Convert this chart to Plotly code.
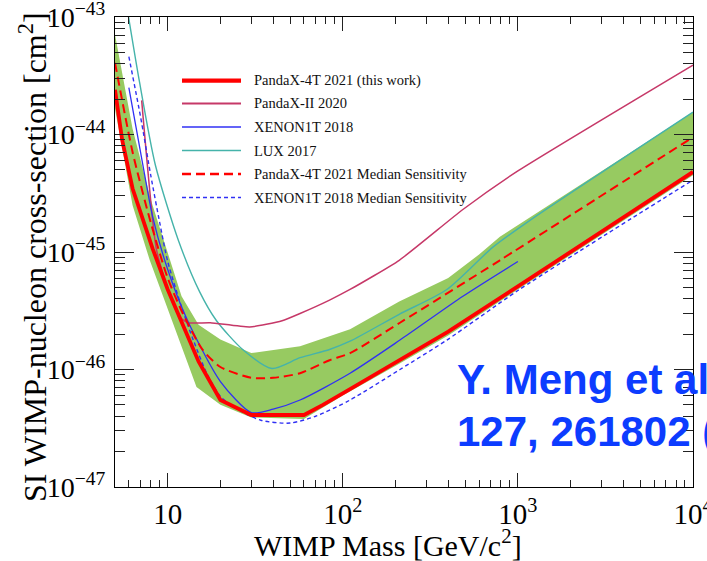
import math
import plotly.graph_objects as go

# ---- limit curves: WIMP mass [GeV/c^2] vs SI WIMP-nucleon cross-section [cm^2] ----
pandax4t_mass = [5, 5.5, 6.3, 8.2, 10, 15, 20, 30, 60, 77, 110, 210, 400, 1000, 10000]
pandax4t_xsec = [2.4e-44, 8.9e-45, 3.47e-45, 1.07e-45, 4.8e-46, 1.17e-46, 5.5e-47, 4.1e-47,
                 4.1e-47, 5.0e-47, 6.8e-47, 1.2e-46, 2.1e-46, 5.1e-46, 4.8e-45]

pandax4t_med_mass = [5, 6.3, 8, 10, 12.2, 15.8, 20, 30, 40, 57, 84, 110, 212, 789, 10000]
pandax4t_med_xsec = [4.07e-44, 7.1e-45, 1.78e-45, 6.0e-46, 3.0e-46, 1.48e-46, 1.05e-46, 8.5e-47,
                     8.5e-47, 9.3e-47, 1.2e-46, 1.38e-46, 2.5e-46, 8.5e-46, 9.5e-45]

band_low_mass = [5, 6.3, 7.9, 10, 14.6, 20, 30, 60, 100, 210, 400, 1000, 10000]
band_low_xsec = [1.66e-44, 2.5e-45, 8.5e-46, 3.3e-46, 7.1e-47, 5.0e-47, 3.9e-47, 3.8e-47,
                 6.0e-47, 1.12e-46, 1.95e-46, 4.8e-46, 4.5e-45]

band_up_mass = [5, 6.3, 8, 10, 12, 15, 20, 30, 57, 110, 210, 400, 600, 789, 1172, 10000]
band_up_xsec = [7.1e-44, 1.12e-44, 2.8e-45, 1.0e-45, 4.2e-46, 2.4e-46, 1.8e-46, 1.38e-46,
                1.58e-46, 2.2e-46, 3.8e-46, 6.0e-46, 9.5e-46, 1.35e-45, 2.0e-45, 1.55e-44]

pandax2_mass = [7.1, 8.6, 10.3, 11.7, 13, 17.5, 29.4, 45, 57, 84, 110, 210, 485, 1000, 10000]
pandax2_xsec = [1.95e-44, 1.07e-45, 4.2e-46, 2.8e-46, 2.5e-46, 2.5e-46, 2.3e-46, 2.6e-46,
                3.0e-46, 3.9e-46, 4.8e-46, 8.5e-46, 2.3e-45, 4.9e-45, 3.9e-44]

xenon1t_mass = [6, 7.5, 8.2, 10, 13, 20, 30, 40, 57, 110, 212, 485, 1000]
xenon1t_xsec = [2.5e-44, 4.0e-45, 2.0e-45, 7.1e-46, 2.6e-46, 7.9e-47, 4.3e-47, 4.6e-47,
                5.5e-47, 9.3e-47, 1.78e-46, 4.2e-46, 8.3e-46]

xenon1t_med_mass = [6, 7, 8, 9, 10, 12, 14, 16.7, 20, 25, 34, 50, 70, 110, 212, 393, 1000, 10000]
xenon1t_med_xsec = [4.6e-44, 1.41e-44, 4.5e-45, 1.78e-45, 8.3e-46, 3.4e-46, 1.78e-46, 9.3e-47,
                    5.9e-47, 4.6e-47, 3.7e-47, 3.5e-47, 4.0e-47, 5.5e-47, 1.0e-46, 1.78e-46,
                    4.7e-46, 4.1e-45]

lux_mass = [5.9, 6.9, 8.5, 11.5, 15.2, 19, 26.8, 39.4, 57, 84, 110, 210, 393, 720, 1172, 10000]
lux_xsec = [1.12e-43, 2.8e-44, 5.5e-45, 1.26e-45, 4.6e-46, 2.6e-46, 1.48e-46, 1.02e-46,
            1.26e-46, 1.48e-46, 1.74e-46, 2.95e-46, 4.8e-46, 1.1e-45, 1.86e-45, 1.55e-44]

# ---- axis ticks ----
x_tick_vals = [10, 100, 1000, 10000]
x_tick_text = ["10", "10<sup>2</sup>", "10<sup>3</sup>", "10<sup>4</sup>"]
y_tick_vals = [1e-47, 1e-46, 1e-45, 1e-44, 1e-43]
y_tick_text = ["10<sup>\u221247</sup>", "10<sup>\u221246</sup>", "10<sup>\u221245</sup>",
               "10<sup>\u221244</sup>", "10<sup>\u221243</sup>"]

x_minor = [k * 10 ** e for e in range(0, 4) for k in range(2, 10) if 5 < k * 10 ** e < 10000]
y_minor = [k * 10.0 ** e for e in range(-47, -43) for k in range(2, 10)]

# ---- styling ----
SERIF = "Liberation Serif"
RED = "#ff0000"
CRIMSON = "#c63868"
BLUE = "#3030f4"
TEAL = "#45b3aa"
GREEN = "#97ca61"

W, H = 707, 561
ML, MR, MT, MB = 115, 14, 17, 74
PW, PH = W - ML - MR, H - MT - MB


def px_x(px):
    return (px - ML) / PW


def px_y(py):
    return (H - MB - py) / PH


fig = go.Figure()

# 1-sigma sensitivity band as a closed polygon
fig.add_trace(go.Scatter(
    x=band_low_mass + band_up_mass[::-1],
    y=band_low_xsec + band_up_xsec[::-1],
    mode="lines", fill="toself", fillcolor=GREEN,
    line=dict(width=0, color=GREEN), hoverinfo="skip", showlegend=False))

# (name, mass, xsec, colour, width, dash, spline smoothing; 0 = straight segments)
series = [
    ("LUX 2017", lux_mass, lux_xsec, TEAL, 1.4, "solid", 0.7),
    ("PandaX-II 2020", pandax2_mass, pandax2_xsec, CRIMSON, 1.5, "solid", 0.5),
    ("XENON1T 2018", xenon1t_mass, xenon1t_xsec, BLUE, 1.3, "solid", 0.7),
    ("XENON1T 2018 Median Sensitivity", xenon1t_med_mass, xenon1t_med_xsec, BLUE, 1.4, "4px,3px", 0.7),
    ("PandaX-4T 2021 Median Sensitivity", pandax4t_med_mass, pandax4t_med_xsec, RED, 2.0, "9px,5px", 0.7),
    ("PandaX-4T 2021 (this work)", pandax4t_mass, pandax4t_xsec, RED, 3.8, "solid", 0),
]
for name, xs, ys, col, wd, dash, smooth in series:
    line = dict(color=col, width=wd, dash=dash)
    if smooth:
        line.update(shape="spline", smoothing=smooth)
    fig.add_trace(go.Scatter(x=xs, y=ys, mode="lines", name=name, line=line,
                             showlegend=False))

# hand-placed legend with long line samples
legend_order = [
    "PandaX-4T 2021 (this work)", "PandaX-II 2020", "XENON1T 2018", "LUX 2017",
    "PandaX-4T 2021 Median Sensitivity", "XENON1T 2018 Median Sensitivity",
]
style = {s[0]: s for s in series}
legend_rows_y = [80.7, 103.5, 127, 150.5, 174, 197.5]
shapes, annotations = [], []
for name, ry in zip(legend_order, legend_rows_y):
    col, wd, dash = style[name][3:6]
    shapes.append(dict(type="line", xref="paper", yref="paper",
                       x0=px_x(182), x1=px_x(241), y0=px_y(ry), y1=px_y(ry),
                       line=dict(color=col, width=wd + (0.4 if wd > 3 else 0.3), dash=dash)))
    annotations.append(dict(text=name, xref="paper", yref="paper", x=px_x(252), y=px_y(ry),
                            xanchor="left", yanchor="middle", showarrow=False,
                            font=dict(family=SERIF, size=14.5, color="#111111")))

# axis titles
annotations.append(dict(text="WIMP Mass [GeV/c<sup>2</sup>]", xref="paper", yref="paper",
                        x=px_x(388), y=px_y(543), xanchor="center", yanchor="middle",
                        showarrow=False, font=dict(family=SERIF, size=30, color="black")))
annotations.append(dict(text="SI WIMP-nucleon cross-section [cm<sup>2</sup>]", xref="paper",
                        yref="paper", x=px_x(33), y=px_y(257), xanchor="center",
                        yanchor="middle", textangle=-90, showarrow=False,
                        font=dict(family=SERIF, size=32, color="black")))

# publication reference
for txt, cy in [("Y. Meng et al., PRL", 379), ("127, 261802 (2021)", 431)]:
    annotations.append(dict(text="<b>%s</b>" % txt, xref="paper", yref="paper",
                            x=px_x(455), y=px_y(cy), xanchor="left", yanchor="middle",
                            showarrow=False,
                            font=dict(family="Liberation Sans", size=42, color="#0c3cff")))

axis_common = dict(
    type="log", showgrid=False, zeroline=False, showline=True, linecolor="black",
    linewidth=1, mirror="allticks", ticks="inside", tickcolor="#222222", tickwidth=1,
    ticklabeloverflow="allow", automargin=False,
)

fig.update_layout(
    width=W, height=H, autosize=False,
    margin=dict(l=ML, r=MR, t=MT, b=MB, pad=0, autoexpand=False),
    paper_bgcolor="white", plot_bgcolor="white",
    showlegend=False,
    xaxis=dict(axis_common, range=[math.log10(5), 4], tickmode="array",
               tickvals=x_tick_vals, ticktext=x_tick_text, ticklen=14,
               ticklabelstandoff=1,
               tickfont=dict(family=SERIF, size=29, color="black"),
               minor=dict(tickmode="array", tickvals=x_minor, ticks="inside", ticklen=7,
                          tickcolor="#222222", tickwidth=1, showgrid=False)),
    yaxis=dict(axis_common, range=[-47, -43], tickmode="array",
               tickvals=y_tick_vals, ticktext=y_tick_text, ticklen=19,
               ticklabelstandoff=3,
               tickfont=dict(family=SERIF, size=28, color="black"),
               minor=dict(tickmode="array", tickvals=y_minor, ticks="inside", ticklen=10,
                          tickcolor="#222222", tickwidth=1, showgrid=False)),
    shapes=shapes,
    annotations=annotations,
)

fig.write_html("out.html")
